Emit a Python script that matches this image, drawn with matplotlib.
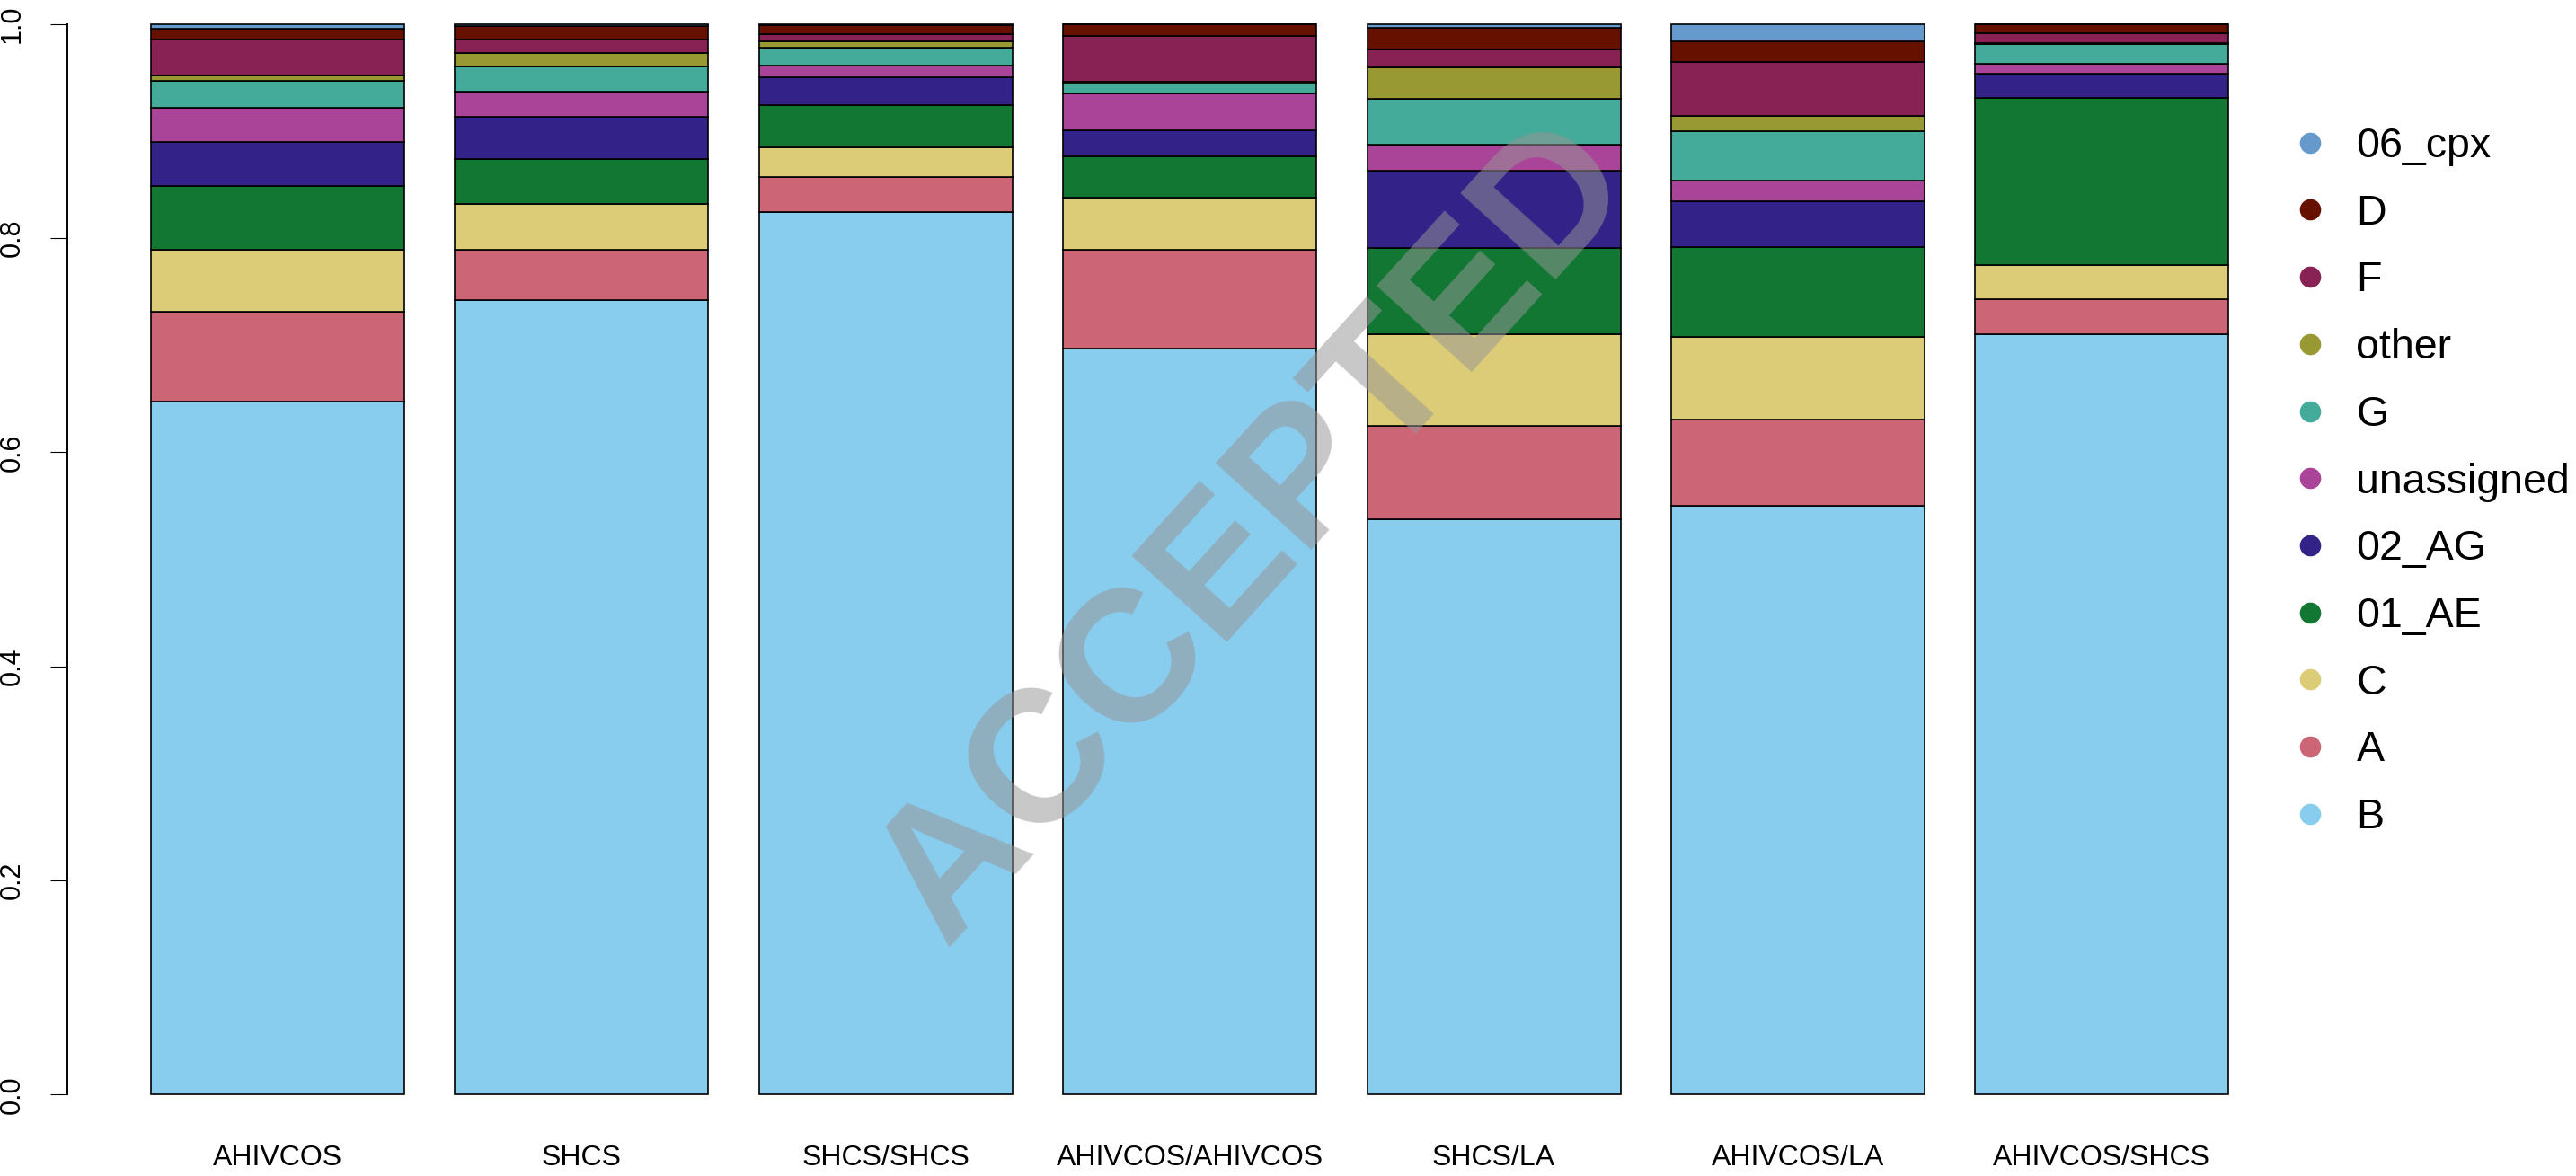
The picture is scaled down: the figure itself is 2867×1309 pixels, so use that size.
import matplotlib
matplotlib.use("Agg")
import matplotlib.pyplot as plt
from matplotlib.lines import Line2D
import numpy as np

plt.rcParams['font.family'] = ['Liberation Sans', 'DejaVu Sans']

categories = ["AHIVCOS", "SHCS", "SHCS/SHCS", "AHIVCOS/AHIVCOS",
              "SHCS/LA", "AHIVCOS/LA", "AHIVCOS/SHCS"]

# stacking order (bottom to top)
subtypes = ["B", "A", "C", "01_AE", "02_AG", "unassigned", "G", "other", "F", "D", "06_cpx"]

B          = [0.647, 0.742, 0.824, 0.6965, 0.537, 0.550, 0.7105]
A          = [0.084, 0.047, 0.033, 0.093, 0.088, 0.0805, 0.0325]
C          = [0.058, 0.043, 0.028, 0.048, 0.085, 0.077, 0.032]
AE01       = [0.060, 0.042, 0.039, 0.0385, 0.081, 0.0845, 0.156]
AG02       = [0.041, 0.039, 0.026, 0.025, 0.072, 0.0425, 0.023]
unassigned = [0.032, 0.024, 0.0114, 0.034, 0.0245, 0.019, 0.009]
G          = [0.025, 0.0235, 0.0163, 0.009, 0.043, 0.046, 0.0185]
other      = [0.005, 0.0125, 0.0063, 0.002, 0.029, 0.015, 0.001]
F          = [0.0335, 0.0125, 0.0065, 0.0425, 0.017, 0.050, 0.009]
D          = [0.010, 0.0125, 0.0085, 0.0115, 0.020, 0.019, 0.0085]
cpx06      = [0.0045, 0.002, 0.001, 0.0, 0.0035, 0.0165, 0.0]

series = [B, A, C, AE01, AG02, unassigned, G, other, F, D, cpx06]
colors = ["#88CCEE", "#CC6677", "#DDCC77", "#117733", "#332288", "#AA4499",
          "#44AA99", "#999933", "#882255", "#661100", "#6699CC"]

yticks = [0.0, 0.2, 0.4, 0.6, 0.8, 1.0]

W, H = 2867, 1309
fig = plt.figure(figsize=(W / 100, H / 100), dpi=100)

# axes placement (pixel based)
left_px, right_px = 75.4, 2572.8
bottom_px, top_px = 1266.0, 2.87
ax = fig.add_axes([left_px / W, (H - bottom_px) / H,
                   (right_px - left_px) / W, (bottom_px - top_px) / H])

x = 0.7 + 1.2 * np.arange(len(categories))
bottom = np.zeros(len(categories))
for vals, col in zip(series, colors):
    v = np.array(vals)
    ax.bar(x, v, width=1.0, bottom=bottom, color=col, edgecolor="black",
           linewidth=1.2, clip_on=False)
    bottom += v

ax.set_xlim(-0.128, 8.728)
ax.set_ylim(-0.04, 1.02)

for s in ["top", "right", "bottom"]:
    ax.spines[s].set_visible(False)
ax.spines["left"].set_bounds(0, 1)
ax.spines["left"].set_linewidth(1.4)

ax.set_yticks(yticks)
ax.set_yticklabels([f"{t:.1f}" for t in yticks], rotation=90, va="center",
                   fontsize=22)
ax.tick_params(axis="y", length=13.7, width=0.8, pad=20)

ax.set_xticks(x)
ax.set_xticklabels(categories, fontsize=23)
ax.tick_params(axis="x", length=0, pad=6)

# legend (top entry first)
handles = [Line2D([], [], marker="o", linestyle="", markersize=16,
                  markerfacecolor=c, markeredgecolor=c)
           for c in colors[::-1]]
leg = fig.legend(handles, subtypes[::-1], loc="upper left",
                 bbox_to_anchor=(2548 / W, 1 - 141 / H),
                 frameon=False, fontsize=33.5, handlelength=1.0,
                 handletextpad=0.6, labelspacing=0.66, borderpad=0,
                 borderaxespad=0)

# watermark
fig.text(1397 / W, 1 - 594 / H, "ACCEPTED", rotation=47.8, ha="center",
         va="center", fontsize=150, fontweight="bold",
         color=(0.59, 0.59, 0.59), alpha=0.53, zorder=10)

fig.savefig("out.png", dpi=100)
